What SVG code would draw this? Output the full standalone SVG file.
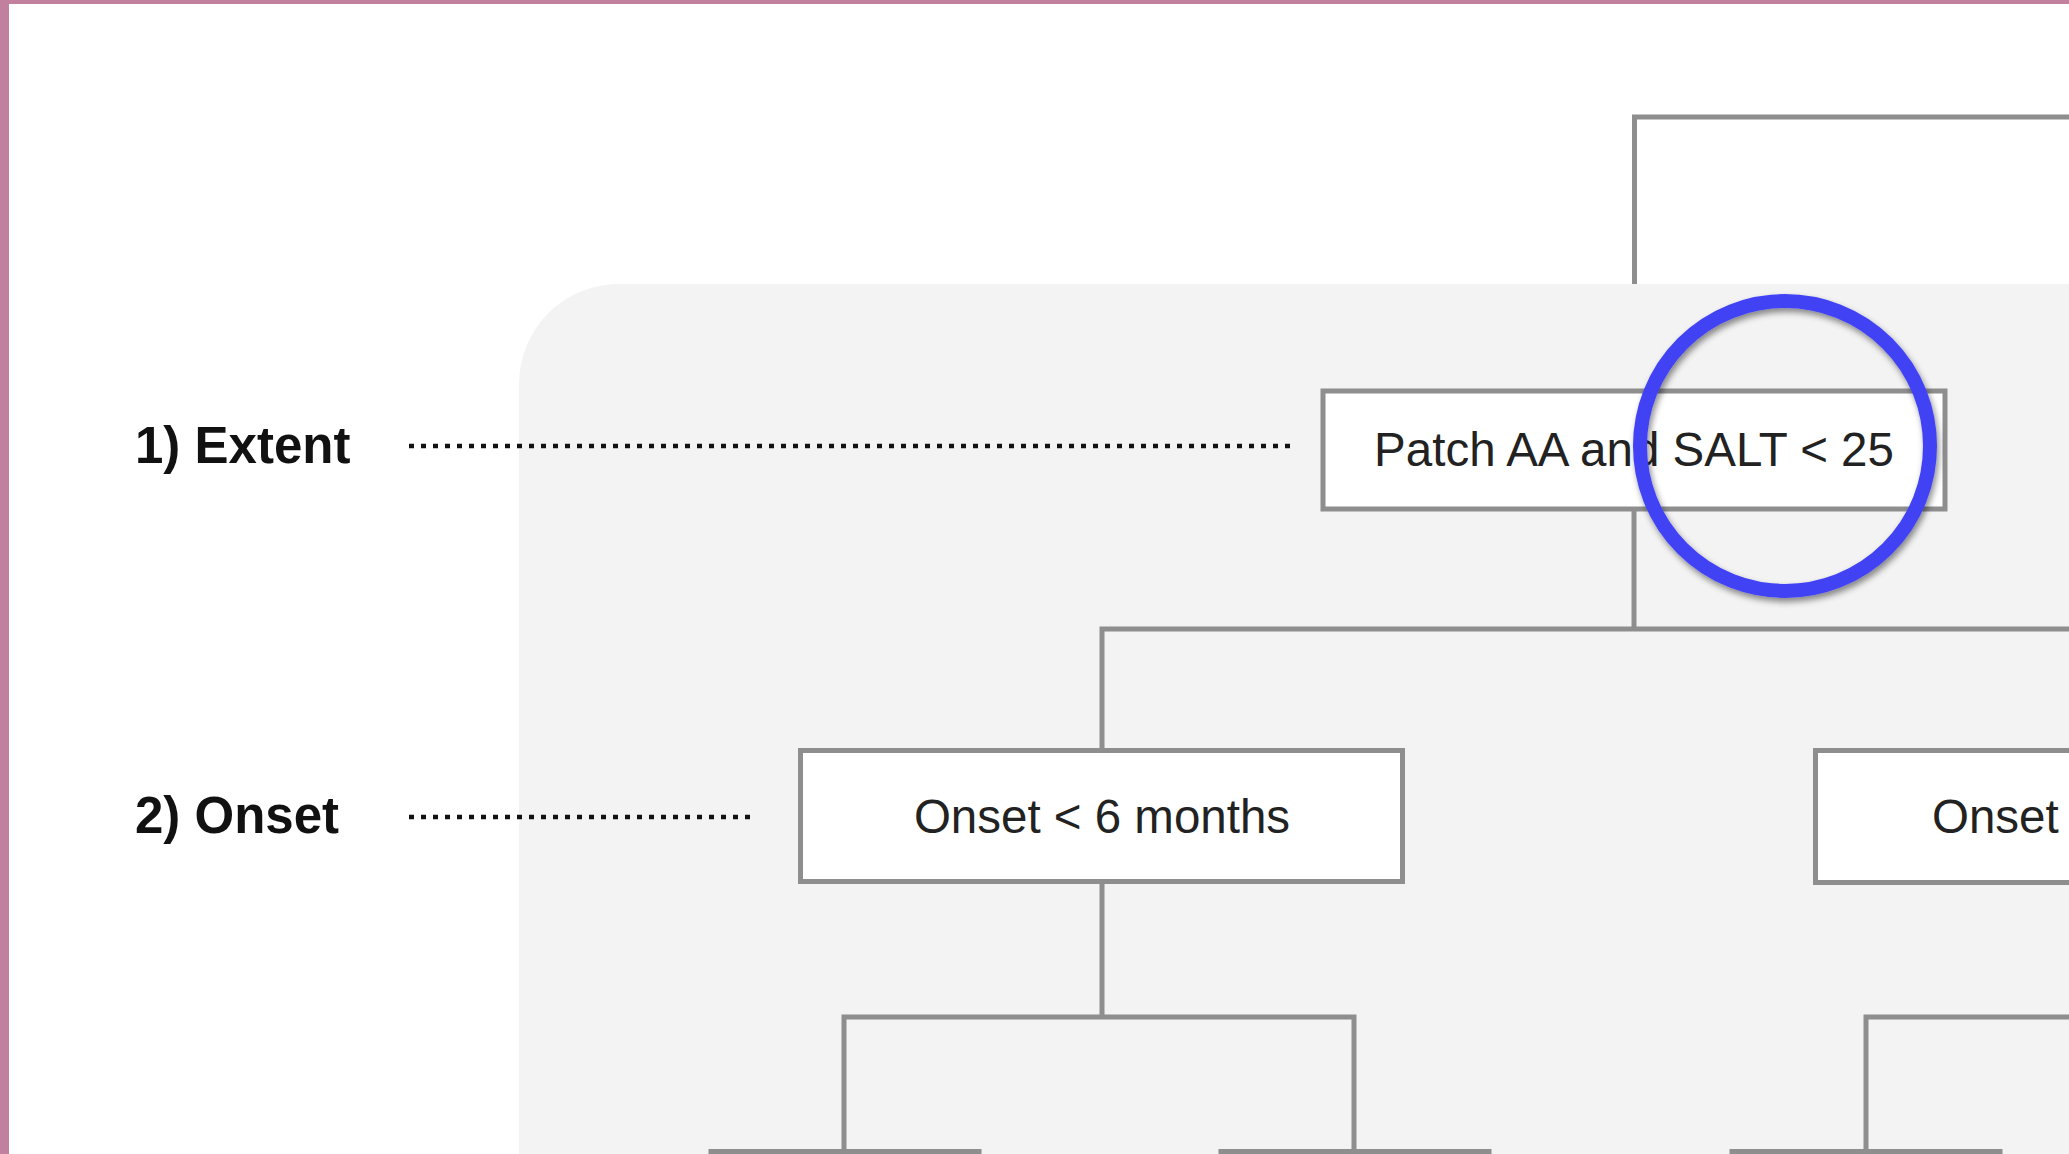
<svg xmlns="http://www.w3.org/2000/svg" width="2069" height="1154" viewBox="0 0 2069 1154">
  <defs>
    <style>
      .conn { fill: none; stroke: #8e8e8e; stroke-width: 5; }
      .box { fill: #ffffff; stroke: #8e8e8e; stroke-width: 5; }
      .boxtext { font-family: "Liberation Sans", Arial, sans-serif; font-size: 47.5px; fill: #222222; }
      .label { font-family: "Liberation Sans", Arial, sans-serif; font-size: 51px; font-weight: bold; fill: #111111; }
      .dots { fill: none; stroke: #111111; stroke-width: 4.5; stroke-dasharray: 5 7; }
    </style>
    <filter id="shadow" x="-20%" y="-20%" width="140%" height="140%">
      <feDropShadow dx="2" dy="4" stdDeviation="3" flood-color="#000000" flood-opacity="0.45"/>
    </filter>
  </defs>

  <rect x="0" y="0" width="2069" height="1154" fill="#ffffff"/>

  <!-- top connector (outside panel) -->
  <g id="connectors-top">
    <path class="conn" d="M1634.5 284 V117 H2069"/>
  </g>

  <!-- grey panel -->
  <path id="panel" d="M519 1154 V384 A100 100 0 0 1 619 284 H2069 V1154 Z" fill="#F3F3F3"/>

  <!-- frame border -->
  <rect x="0" y="0" width="9" height="1154" fill="#C0809E"/>
  <rect x="0" y="0" width="2069" height="4" fill="#C0809E"/>

  <g id="connectors">
    <path class="conn" d="M1634 511 V629"/>
    <path class="conn" d="M1102 750 V629 H2069"/>
    <path class="conn" d="M1102 884 V1017"/>
    <path class="conn" d="M844 1152 V1017 H1354 V1152"/>
    <path class="conn" d="M1866 1152 V1017 H2069"/>
    <path class="dots" d="M409 446 H1290"/>
    <path class="dots" d="M409 817 H750"/>
  </g>

  <g id="label-extent">
    <text class="label" x="135" y="463">1) Extent</text>
  </g>
  <g id="label-onset">
    <text class="label" x="135" y="833">2) Onset</text>
  </g>

  <g id="node-patch">
    <rect class="box" x="1323" y="391" width="622" height="118"/>
    <text class="boxtext" x="1634" y="466" text-anchor="middle">Patch AA and SALT &lt; 25</text>
  </g>

  <g id="node-onset-lt6">
    <rect class="box" x="800.5" y="750.5" width="602" height="131"/>
    <text class="boxtext" x="1102" y="833" text-anchor="middle">Onset &lt; 6 months</text>
  </g>

  <g id="node-onset-right">
    <rect class="box" x="1815.5" y="750.5" width="400" height="132"/>
    <text class="boxtext" x="1932" y="833">Onset</text>
  </g>

  <g id="node-l3-a">
    <rect class="box" x="711" y="1151.5" width="268" height="100"/>
  </g>
  <g id="node-l3-b">
    <rect class="box" x="1221" y="1151.5" width="268" height="100"/>
  </g>
  <g id="node-l3-c">
    <rect class="box" x="1732" y="1151.5" width="268" height="100"/>
  </g>

  <g id="highlight-circle">
    <circle cx="1785" cy="446" r="145" fill="none" stroke="#4343F5" stroke-width="14" filter="url(#shadow)"/>
  </g>
</svg>
